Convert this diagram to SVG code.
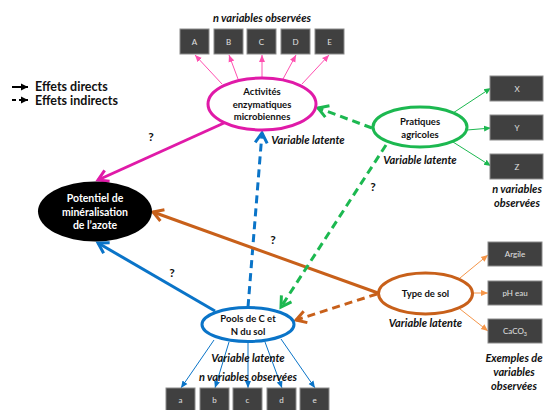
<svg xmlns="http://www.w3.org/2000/svg" width="544" height="410" viewBox="0 0 544 410">
<style>
text{font-family:Lato,"Liberation Sans",sans-serif;font-weight:bold}
.nt{font-size:9.5px;fill:#111;text-anchor:middle}
.lat{font-size:11px;font-style:italic;fill:#111;text-anchor:middle}
.obs{font-size:11px;font-style:italic;fill:#111;text-anchor:middle}
.q{font-size:12px;fill:#111;text-anchor:middle}
.box{fill:#404040;stroke:#8a8a8a;stroke-width:1}
.bt{font-size:8px;font-weight:normal;fill:#e0e0e0;text-anchor:middle}
.thick{fill:none;stroke-width:3}
.thin{fill:none;stroke-width:1}
.dash{stroke-dasharray:8 5}
</style>
<defs>
<marker id="vMag" markerUnits="userSpaceOnUse" markerWidth="16" markerHeight="16" refX="13" refY="8" orient="auto"><path d="M3,2 L13,8 L3,14" fill="none" stroke="#e01aa8" stroke-width="3"/></marker>
<marker id="vBlue" markerUnits="userSpaceOnUse" markerWidth="16" markerHeight="16" refX="13" refY="8" orient="auto"><path d="M3,2 L13,8 L3,14" fill="none" stroke="#0a74c8" stroke-width="3"/></marker>
<marker id="vOr" markerUnits="userSpaceOnUse" markerWidth="16" markerHeight="16" refX="13" refY="8" orient="auto"><path d="M3,2 L13,8 L3,14" fill="none" stroke="#c8601a" stroke-width="3"/></marker>
<marker id="vGr" markerUnits="userSpaceOnUse" markerWidth="16" markerHeight="16" refX="13" refY="8" orient="auto"><path d="M3,2 L13,8 L3,14" fill="none" stroke="#1cb850" stroke-width="3"/></marker>
<marker id="tPink" markerUnits="userSpaceOnUse" markerWidth="8" markerHeight="8" refX="7" refY="4" orient="auto"><path d="M0,1 L7,4 L0,7 Z" fill="#ff4fb0"/></marker>
<marker id="tBlue" markerUnits="userSpaceOnUse" markerWidth="8" markerHeight="8" refX="7" refY="4" orient="auto"><path d="M0,1 L7,4 L0,7 Z" fill="#0a74c8"/></marker>
<marker id="tGr" markerUnits="userSpaceOnUse" markerWidth="8" markerHeight="8" refX="7" refY="4" orient="auto"><path d="M0,1 L7,4 L0,7 Z" fill="#1cb850"/></marker>
<marker id="tOr" markerUnits="userSpaceOnUse" markerWidth="8" markerHeight="8" refX="7" refY="4" orient="auto"><path d="M0,1 L7,4 L0,7 Z" fill="#f5964a"/></marker>
<marker id="tBlk" markerUnits="userSpaceOnUse" markerWidth="8" markerHeight="8" refX="7" refY="4" orient="auto"><path d="M0,0.5 L7,4 L0,7.5 Z" fill="#000"/></marker>
</defs>

<g id="legend">
<line x1="12" y1="87" x2="28" y2="87" stroke="#000" stroke-width="2" marker-end="url(#tBlk)"/>
<text x="35" y="91" style="font-size:12.5px;fill:#111">Effets directs</text>
<line x1="12" y1="100" x2="28" y2="100" stroke="#000" stroke-width="2" stroke-dasharray="4 3" marker-end="url(#tBlk)"/>
<text x="35" y="104.5" style="font-size:12.5px;fill:#111">Effets indirects</text>
</g>

<g id="connectors">
<line class="thick" x1="224" y1="123" x2="98" y2="180" stroke="#e01aa8" marker-end="url(#vMag)"/>
<line class="thick dash" x1="248" y1="307" x2="262" y2="133" stroke="#0a74c8" marker-end="url(#vBlue)"/>
<line class="thick" x1="215" y1="311" x2="98" y2="243" stroke="#0a74c8" marker-end="url(#vBlue)"/>
<line class="thick" x1="378" y1="293" x2="153" y2="212" stroke="#c8601a" marker-end="url(#vOr)"/>
<line class="thick dash" x1="377" y1="294" x2="296" y2="320" stroke="#c8601a" marker-end="url(#vOr)"/>
<line class="thick dash" x1="372" y1="128" x2="318" y2="108" stroke="#1cb850" marker-end="url(#vGr)"/>
<line class="thick dash" x1="386" y1="145" x2="281" y2="307" stroke="#1cb850" marker-end="url(#vGr)"/>
<g stroke="#ff4fb0">
<line class="thin" x1="222" y1="84" x2="195" y2="55" marker-end="url(#tPink)"/>
<line class="thin" x1="238" y1="79" x2="229" y2="55" marker-end="url(#tPink)"/>
<line class="thin" x1="262" y1="78" x2="262" y2="55" marker-end="url(#tPink)"/>
<line class="thin" x1="283" y1="79" x2="296" y2="55" marker-end="url(#tPink)"/>
<line class="thin" x1="302" y1="84" x2="329" y2="55" marker-end="url(#tPink)"/>
</g>
<g stroke="#1cb850">
<line class="thin" x1="453" y1="113" x2="491" y2="88" marker-end="url(#tGr)"/>
<line class="thin" x1="467" y1="130" x2="491" y2="128" marker-end="url(#tGr)"/>
<line class="thin" x1="453" y1="142" x2="491" y2="166" marker-end="url(#tGr)"/>
</g>
<g stroke="#f5964a">
<line class="thin" x1="460" y1="278" x2="488" y2="255" marker-end="url(#tOr)"/>
<line class="thin" x1="473" y1="293" x2="488" y2="293" marker-end="url(#tOr)"/>
<line class="thin" x1="460" y1="309" x2="488" y2="331" marker-end="url(#tOr)"/>
</g>
<g stroke="#0a74c8">
<line class="thin" x1="214" y1="340" x2="181" y2="388" marker-end="url(#tBlue)"/>
<line class="thin" x1="229" y1="342" x2="215" y2="388" marker-end="url(#tBlue)"/>
<line class="thin" x1="248" y1="342" x2="248" y2="388" marker-end="url(#tBlue)"/>
<line class="thin" x1="265" y1="342" x2="282" y2="388" marker-end="url(#tBlue)"/>
<line class="thin" x1="281" y1="339" x2="315" y2="388" marker-end="url(#tBlue)"/>
</g>
<text class="q" x="151" y="141">?</text>
<text class="q" x="172" y="277">?</text>
<text class="q" x="273" y="244">?</text>
<text class="q" x="373" y="191">?</text>
</g>

<g id="potentiel">
<ellipse cx="95" cy="211.5" rx="57" ry="30" fill="#000"/>
<text x="95" y="202" style="font-size:10.5px;fill:#fff;text-anchor:middle">Potentiel de</text>
<text x="95" y="215.5" style="font-size:10.5px;fill:#fff;text-anchor:middle">minéralisation</text>
<text x="95" y="229" style="font-size:10.5px;fill:#fff;text-anchor:middle">de l’azote</text>
</g>

<g id="activites">
<ellipse cx="262" cy="104" rx="54" ry="26" fill="#fff" stroke="#e01aa8" stroke-width="3"/>
<text class="nt" x="262" y="95">Activités</text>
<text class="nt" x="262" y="107.5">enzymatiques</text>
<text class="nt" x="262" y="120">microbiennes</text>
<text class="lat" x="308" y="144">Variable latente</text>
</g>

<g id="obs-activites">
<text class="obs" x="262" y="22">n variables observées</text>
<rect class="box" x="180" y="29" width="29" height="25"/><text class="bt" x="194.5" y="44.5">A</text>
<rect class="box" x="214" y="29" width="29" height="25"/><text class="bt" x="228.5" y="44.5">B</text>
<rect class="box" x="247" y="29" width="29" height="25"/><text class="bt" x="261.5" y="44.5">C</text>
<rect class="box" x="281" y="29" width="29" height="25"/><text class="bt" x="295.5" y="44.5">D</text>
<rect class="box" x="315" y="29" width="29" height="25"/><text class="bt" x="329.5" y="44.5">E</text>
</g>

<g id="pratiques">
<ellipse cx="420" cy="127" rx="47" ry="20" fill="#fff" stroke="#1cb850" stroke-width="3"/>
<text class="nt" x="420" y="125">Pratiques</text>
<text class="nt" x="420" y="137.5">agricoles</text>
<text class="lat" x="420" y="164">Variable latente</text>
</g>

<g id="obs-pratiques">
<rect class="box" x="490" y="76" width="53" height="25"/><text class="bt" x="517" y="91.5">X</text>
<rect class="box" x="490" y="115" width="53" height="25"/><text class="bt" x="517" y="130.5">Y</text>
<rect class="box" x="490" y="154" width="53" height="25"/><text class="bt" x="517" y="169.5">Z</text>
<text class="obs" x="517" y="193">n variables</text>
<text class="obs" x="517" y="207">observées</text>
</g>

<g id="typesol">
<ellipse cx="425.5" cy="293.5" rx="47" ry="20.5" fill="#fff" stroke="#c8601a" stroke-width="3"/>
<text class="nt" x="425.5" y="297">Type de sol</text>
<text class="lat" x="425.5" y="327">Variable latente</text>
</g>

<g id="obs-typesol">
<rect class="box" x="488" y="242" width="54" height="24"/><text class="bt" x="515" y="257">Argile</text>
<rect class="box" x="488" y="281" width="54" height="24"/><text class="bt" x="515" y="296">pH eau</text>
<rect class="box" x="488" y="319" width="54" height="24"/><text class="bt" x="515" y="334">CaCO<tspan font-size="5.5px" dy="2">3</tspan></text>
<text class="obs" x="514" y="362">Exemples de</text>
<text class="obs" x="514" y="376">variables</text>
<text class="obs" x="514" y="390">observées</text>
</g>

<g id="pools">
<ellipse cx="248" cy="324.5" rx="46" ry="17" fill="#fff" stroke="#0a74c8" stroke-width="3"/>
<text class="nt" x="248" y="322">Pools de C et</text>
<text class="nt" x="248" y="334.5">N du sol</text>
<text class="lat" x="248" y="362">Variable latente</text>
<text class="obs" x="248" y="381">n variables observées</text>
</g>

<g id="obs-pools">
<rect class="box" x="166" y="388" width="29" height="26"/><text class="bt" x="180.5" y="403">a</text>
<rect class="box" x="200" y="388" width="29" height="26"/><text class="bt" x="214.5" y="403">b</text>
<rect class="box" x="233" y="388" width="29" height="26"/><text class="bt" x="247.5" y="403">c</text>
<rect class="box" x="267" y="388" width="29" height="26"/><text class="bt" x="281.5" y="403">d</text>
<rect class="box" x="300" y="388" width="29" height="26"/><text class="bt" x="314.5" y="403">e</text>
</g>
</svg>
